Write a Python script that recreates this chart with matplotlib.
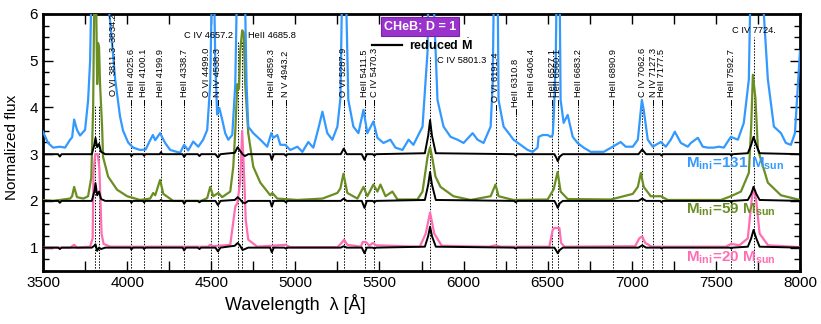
import matplotlib
matplotlib.use("Agg")
import matplotlib.pyplot as plt
from matplotlib.ticker import MultipleLocator

plt.rcParams['font.family'] = ['Liberation Sans', 'DejaVu Sans']
plt.rcParams['mathtext.fontset'] = 'custom'
plt.rcParams['mathtext.rm'] = 'Liberation Sans'
plt.rcParams['mathtext.it'] = 'Liberation Sans:italic'
plt.rcParams['mathtext.bf'] = 'Liberation Sans:bold'

# spectra (wavelength in A, normalized flux incl. offset)
blue_wl = [3500, 3530, 3560, 3601, 3631, 3661, 3673, 3685, 3702, 3720, 3750, 3768, 3780, 3790, 3800, 3840,
           3887, 3905, 3929, 3958, 3976, 4006, 4036, 4077, 4110, 4137, 4153, 4167, 4196, 4226, 4256, 4315,
           4339, 4363, 4393, 4423, 4452, 4476, 4494, 4506, 4515, 4524, 4535, 4548, 4565, 4583, 4601, 4625,
           4643, 4655, 4684, 4700, 4710, 4720, 4750, 4792, 4833, 4857, 4869, 4893, 4911, 4940, 4970, 5012,
           5042, 5077, 5107, 5137, 5161, 5190, 5220, 5250, 5268, 5280, 5298, 5315, 5345, 5375, 5405, 5428,
           5464, 5488, 5524, 5565, 5595, 5637, 5673, 5702, 5756, 5786, 5792, 5815, 5845, 5881, 5923, 5964,
           6000, 6054, 6083, 6119, 6161, 6173, 6182, 6202, 6208, 6238, 6268, 6297, 6339, 6381, 6411, 6440,
           6446, 6470, 6500, 6518, 6530, 6536, 6548, 6555, 6570, 6577, 6595, 6619, 6649, 6678, 6714, 6756,
           6833, 6887, 6934, 6964, 7006, 7036, 7060, 7071, 7095, 7125, 7143, 7173, 7202, 7232, 7256, 7292,
           7333, 7351, 7393, 7422, 7452, 7488, 7518, 7547, 7589, 7631, 7666, 7696, 7708, 7740, 7768, 7809,
           7845, 7887, 7916, 7946, 7970, 7988, 8000]
blue_flux = [3.48, 3.24, 3.14, 3.16, 3.14, 3.31, 3.36, 3.74, 3.52, 3.40, 3.52, 4.15, 5.0, 7.0, 8.0, 8.0,
             6.3, 5.6, 4.6, 3.8, 3.5, 3.25, 3.14, 3.09, 3.10, 3.30, 3.41, 3.30, 3.45, 3.24, 3.09, 3.03,
             3.20, 3.08, 3.27, 3.16, 3.31, 3.52, 4.5, 7.0, 7.0, 5.0, 3.85, 3.99, 3.74, 3.45, 3.31, 3.41,
             4.5, 7.0, 8.0, 6.5, 4.5, 3.59, 3.45, 3.31, 3.16, 3.45, 3.35, 3.41, 3.20, 3.20, 3.09, 3.16,
             3.05, 3.26, 3.14, 3.55, 3.91, 3.45, 3.31, 3.59, 4.2, 7.0, 7.0, 4.16, 3.59, 3.45, 3.95, 3.45,
             3.70, 3.35, 3.24, 3.31, 3.14, 3.09, 3.31, 3.20, 3.59, 5.2, 7.0, 7.0, 4.16, 3.59, 3.37, 3.31,
             3.24, 3.45, 3.31, 3.24, 3.59, 4.5, 7.0, 7.0, 4.16, 3.59, 3.45, 3.31, 3.20, 3.09, 3.05, 3.14,
             3.37, 3.41, 3.41, 3.37, 3.41, 3.8, 5.0, 7.0, 7.0, 4.16, 3.67, 3.84, 3.37, 3.24, 3.14, 3.05,
             3.05, 3.16, 3.26, 3.16, 3.16, 3.31, 4.16, 3.95, 3.31, 3.16, 3.20, 3.26, 3.16, 3.31, 3.48, 3.24,
             3.16, 3.24, 3.35, 3.16, 3.14, 3.14, 3.16, 3.14, 3.37, 3.31, 3.67, 4.6, 7.0, 8.0, 7.0, 4.6,
             3.59, 3.45, 3.24, 3.20, 3.45, 4.48, 5.2]

green_wl = [3500, 3560, 3661, 3673, 3685, 3702, 3740, 3768, 3787, 3798, 3805, 3815, 3822, 3827, 3833, 3839,
            3851, 3857, 3887, 3940, 4000, 4077, 4137, 4155, 4167, 4196, 4215, 4274, 4440, 4476, 4494, 4512,
            4542, 4565, 4613, 4631, 4643, 4655, 4665, 4672, 4684, 4693, 4702, 4720, 4750, 4792, 4851, 4863,
            4893, 5012, 5161, 5250, 5268, 5286, 5309, 5369, 5405, 5428, 5464, 5488, 5506, 5536, 5577, 5607,
            5726, 5756, 5786, 5801, 5815, 5833, 5863, 5940, 6042, 6161, 6190, 6208, 6297, 6500, 6536, 6559,
            6577, 6619, 6875, 7006, 7036, 7054, 7071, 7113, 7173, 7214, 7530, 7589, 7649, 7696, 7710, 7720,
            7735, 7750, 7809, 7887, 8000]
green_flux = [2.02, 2.00, 2.05, 2.10, 2.30, 2.08, 2.05, 2.10, 2.5, 4.0, 6.5, 6.5, 4.5, 5.38, 5.3, 4.5,
              3.6, 2.94, 2.52, 2.24, 2.10, 2.02, 2.05, 2.17, 2.12, 2.45, 2.15, 2.00, 2.00, 2.06, 2.30, 2.10,
              2.17, 2.08, 2.20, 2.73, 3.5, 4.5, 4.4, 5.2, 5.65, 5.6, 4.5, 3.45, 2.73, 2.39, 2.12, 2.17,
              2.05, 2.02, 2.05, 2.17, 2.27, 2.58, 2.17, 2.05, 2.30, 2.10, 2.35, 2.20, 2.35, 2.10, 2.20, 2.03,
              2.03, 2.20, 2.94, 3.15, 2.90, 2.52, 2.30, 2.10, 2.02, 2.10, 2.35, 2.10, 2.02, 2.03, 2.25, 2.62,
              2.20, 2.04, 2.03, 2.15, 2.30, 2.60, 2.30, 2.10, 2.10, 2.02, 2.02, 2.10, 2.20, 2.6, 3.6, 4.7,
              4.2, 3.1, 2.39, 2.12, 2.02]

pink_wl = [3500, 3661, 3685, 3702, 3780, 3795, 3800, 3810, 3825, 3835, 3848, 3860, 3900, 4480, 4494, 4512,
           4613, 4643, 4655, 4672, 4684, 4696, 4705, 4720, 4774, 4940, 4970, 5250, 5275, 5290, 5309, 5390,
           5400, 5420, 5440, 5460, 5480, 5740, 5775, 5801, 5826, 5870, 6150, 6190, 6220, 6510, 6530, 6540,
           6570, 6580, 6600, 7020, 7045, 7062, 7080, 7120, 7560, 7590, 7640, 7690, 7712, 7724, 7740, 7760,
           7810, 8000]
pink_flux = [1.00, 1.00, 1.06, 1.00, 1.02, 1.2, 2.6, 3.0, 3.0, 2.7, 1.3, 1.08, 1.02, 1.02, 1.06, 1.03,
             1.06, 1.88, 1.95, 2.4, 3.5, 2.5, 1.6, 1.17, 1.02, 1.06, 1.01, 1.01, 1.10, 1.17, 1.06, 1.02,
             1.12, 1.12, 1.04, 1.10, 1.05, 1.02, 1.30, 1.75, 1.30, 1.04, 1.02, 1.05, 1.02, 1.02, 1.38, 1.42,
             1.42, 1.10, 1.02, 1.03, 1.20, 1.24, 1.10, 1.02, 1.02, 1.08, 1.05, 1.20, 2.0, 2.3, 2.0, 1.3,
             1.05, 1.01]

# reduced mass-loss models (black)
red_wl = [3500, 3590, 3600, 3610, 3790, 3805, 3812, 3822, 3833, 3845, 3870, 4020, 4025, 4035, 4095, 4100,
          4110, 4195, 4200, 4210, 4330, 4339, 4350, 4420, 4430, 4440, 4525, 4540, 4555, 4640, 4657, 4670,
          4686, 4700, 4720, 4850, 4860, 4872, 4935, 4943, 4955, 5270, 5288, 5305, 5395, 5411, 5425, 5460,
          5470, 5480, 5770, 5790, 5801, 5812, 5835, 6300, 6310, 6320, 6540, 6552, 6560, 6572, 6590, 7040,
          7062, 7085, 7170, 7177, 7185, 7585, 7592, 7600, 7690, 7710, 7724, 7740, 7760, 8000]
red131_flux = [3.00, 3.00, 2.95, 3.00, 3.00, 3.20, 3.35, 3.15, 3.22, 3.05, 3.00, 3.00, 2.96, 3.00, 3.00, 2.97,
               3.00, 3.00, 3.04, 3.00, 3.00, 2.94, 3.00, 3.00, 2.96, 3.00, 3.00, 2.93, 3.00, 3.03, 3.15, 3.08,
               3.00, 2.96, 3.00, 3.00, 2.88, 3.00, 3.00, 2.97, 3.00, 3.00, 3.12, 3.00, 3.00, 2.88, 3.00, 3.00,
               2.97, 3.00, 3.02, 3.40, 3.73, 3.40, 3.02, 3.00, 2.97, 3.00, 3.00, 2.92, 2.85, 2.95, 3.00, 3.00,
               3.10, 3.00, 3.00, 2.97, 3.00, 3.00, 2.97, 3.00, 3.02, 3.20, 3.37, 3.20, 3.02, 3.00]
red59_flux = [2.00, 2.00, 1.96, 2.00, 2.00, 2.20, 2.38, 2.12, 2.20, 2.04, 2.00, 2.00, 1.96, 2.00, 2.00, 1.97,
              2.00, 2.00, 2.02, 2.00, 2.00, 1.94, 2.00, 2.00, 1.97, 2.00, 2.00, 1.91, 2.00, 2.02, 2.08, 2.04,
              1.97, 1.95, 2.00, 2.00, 1.88, 2.00, 2.00, 1.97, 2.00, 2.00, 2.05, 2.00, 2.00, 1.85, 2.00, 2.00,
              1.97, 2.00, 2.02, 2.35, 2.62, 2.35, 2.02, 2.00, 1.97, 2.00, 2.00, 1.92, 1.85, 1.95, 2.00, 2.00,
              2.05, 2.00, 2.00, 1.97, 2.00, 2.00, 1.97, 2.00, 2.02, 2.15, 2.30, 2.15, 2.02, 2.00]
red20_flux = [1.00, 1.00, 0.97, 1.00, 1.00, 1.04, 1.07, 0.93, 1.00, 0.97, 1.00, 1.00, 0.96, 1.00, 1.00, 0.97,
              1.00, 1.00, 1.00, 1.00, 1.00, 0.94, 1.00, 1.00, 0.97, 1.00, 1.00, 0.92, 1.00, 1.04, 1.10, 1.05,
              0.95, 0.97, 1.00, 1.00, 0.90, 1.00, 1.00, 0.98, 1.00, 1.00, 1.03, 1.00, 1.00, 0.88, 1.00, 1.00,
              0.98, 1.00, 1.02, 1.25, 1.45, 1.25, 1.02, 1.00, 0.98, 1.00, 1.00, 0.93, 0.88, 0.95, 1.00, 1.00,
              1.05, 1.00, 1.00, 0.98, 1.00, 1.00, 0.98, 1.00, 1.02, 1.20, 1.38, 1.20, 1.02, 1.00]

# line identifications
vert_names = ["O VI 3811.3$-$3834.2", "HeII 4025.6", "HeII 4100.1", "HeII 4199.9", "HeII 4338.7",
              "O VI 4499.0", "N IV 4538.3", "HeII 4859.3", "N V 4943.2", "O VI 5287.9", "HeII 5411.5",
              "C IV 5470.3", "O VI 6191.4", "HeII 6310.8", "HeII 6406.4", "HeII 6527.1", "HeII 6560.1",
              "HeII 6683.2", "HeII 6890.9", "C IV 7062.6", "N IV 7127.3", "HeII 7177.5", "HeII 7592.7"]
vert_wl = [3811.3, 4025.6, 4100.1, 4199.9, 4338.7, 4499.0, 4538.3, 4859.3, 4943.2, 5287.9, 5411.5,
           5470.3, 6191.4, 6310.8, 6406.4, 6527.1, 6560.1, 6683.2, 6890.9, 7062.6, 7127.3, 7177.5, 7592.7]
horiz_names = ["C IV 4657.2", "HeII 4685.8", "C IV 5801.3", "C IV 7724."]
horiz_wl = [4657.2, 4685.8, 5801.3, 7724.0]

blue = '#3399FF'
green = '#6B8E23'
pink = '#FF6EB4'

fig = plt.figure(figsize=(8.21, 3.24), dpi=100)
ax = fig.add_axes([0.0524, 0.1636, 0.922, 0.7932])

ax.plot(pink_wl, pink_flux, color=pink, lw=1.6, zorder=3)
ax.plot(red_wl, red20_flux, color='black', lw=1.4, zorder=4)
ax.plot(green_wl, green_flux, color=green, lw=1.6, zorder=3)
ax.plot(red_wl, red59_flux, color='black', lw=1.4, zorder=4)
ax.plot(blue_wl, blue_flux, color=blue, lw=1.6, zorder=3)
ax.plot(red_wl, red131_flux, color='black', lw=1.4, zorder=4)

# dotted markers for the vertical labels
shift = {"O VI 3811.3$-$3834.2": 105, "O VI 4499.0": -30}
lower = {"O VI 6191.4": -0.1, "HeII 6310.8": -0.2}
for name, wl in zip(vert_names, vert_wl):
    base = 4.05 + lower.get(name, 0)
    if name.startswith("O VI 3811"):
        for w in (3811.3, 3834.2):
            ax.plot([w, w], [0.5, base], ls=(0, (1.5, 1.5)), color='black', lw=0.7, zorder=2)
    else:
        ax.plot([wl, wl], [0.5, base], ls=(0, (1.5, 1.5)), color='black', lw=0.7, zorder=2)
        ax.plot([wl, wl], [base, base + 0.11], color='black', lw=0.7, zorder=2)
    ax.text(wl + shift.get(name, 0), base + 0.17, name, rotation=90, ha='center', va='bottom',
            fontsize=6.7, zorder=5)

# horizontal labels
htop = [5.42, 5.42, 5.07, 5.5]
for name, wl, top in zip(horiz_names, horiz_wl, htop):
    ax.plot([wl, wl], [0.5, top], ls=(0, (1.5, 1.5)), color='black', lw=0.7, zorder=2)
ax.text(4632, 5.55, horiz_names[0], ha='right', va='center', fontsize=6.7)
ax.text(4720, 5.55, horiz_names[1], ha='left', va='center', fontsize=6.7)
ax.text(5845, 5.0, horiz_names[2], ha='left', va='center', fontsize=6.7)
ax.text(7724, 5.64, horiz_names[3], ha='center', va='center', fontsize=6.7)

# legend-like annotations
ax.text(0.498, 0.951, "CHeB; D = 1", transform=ax.transAxes, ha='center', va='center',
        color='white', fontsize=9, fontweight='bold', zorder=6,
        bbox=dict(boxstyle='square,pad=0.25', fc='#9933CC', ec='#7a22aa', lw=0.8))
ax.plot([0.435, 0.474], [0.879, 0.879], transform=ax.transAxes, color='black', lw=1.6, zorder=6)
ax.text(0.484, 0.879, r"reduced $\dot{\mathbf{M}}$", transform=ax.transAxes, ha='left', va='center',
        fontsize=9, fontweight='bold', zorder=6)

ax.text(7905, 2.8, r"$\mathbf{M_{ini}\!=\!131\ M_{sun}}$", color=blue, ha='right', va='center', fontsize=11, zorder=6)
ax.text(7857, 1.8, r"$\mathbf{M_{ini}\!=\!59\ M_{sun}}$", color=green, ha='right', va='center', fontsize=11, zorder=6)
ax.text(7857, 0.78, r"$\mathbf{M_{ini}\!=\!20\ M_{sun}}$", color=pink, ha='right', va='center', fontsize=11, zorder=6)

ax.set_xlim(3500, 8000)
ax.set_ylim(0.5, 6)
ax.xaxis.set_major_locator(MultipleLocator(500))
ax.xaxis.set_minor_locator(MultipleLocator(250))
ax.yaxis.set_major_locator(MultipleLocator(1))
ax.yaxis.set_minor_locator(MultipleLocator(0.25))
ax.tick_params(which='both', direction='in', top=True, right=True, labelsize=11)
ax.tick_params(which='major', length=7, width=1)
ax.tick_params(which='minor', length=4, width=1)
ax.tick_params(axis='x', which='minor', length=7)
for s in ax.spines.values():
    s.set_linewidth(2)

ax.set_ylabel("Normalized flux", fontsize=11)
ax.yaxis.set_label_coords(-0.032, 0.48)
ax.set_xlabel("Wavelength  λ [Å]", fontsize=13)
ax.xaxis.set_label_coords(0.333, -0.088)

fig.savefig("out.png", dpi=100)
